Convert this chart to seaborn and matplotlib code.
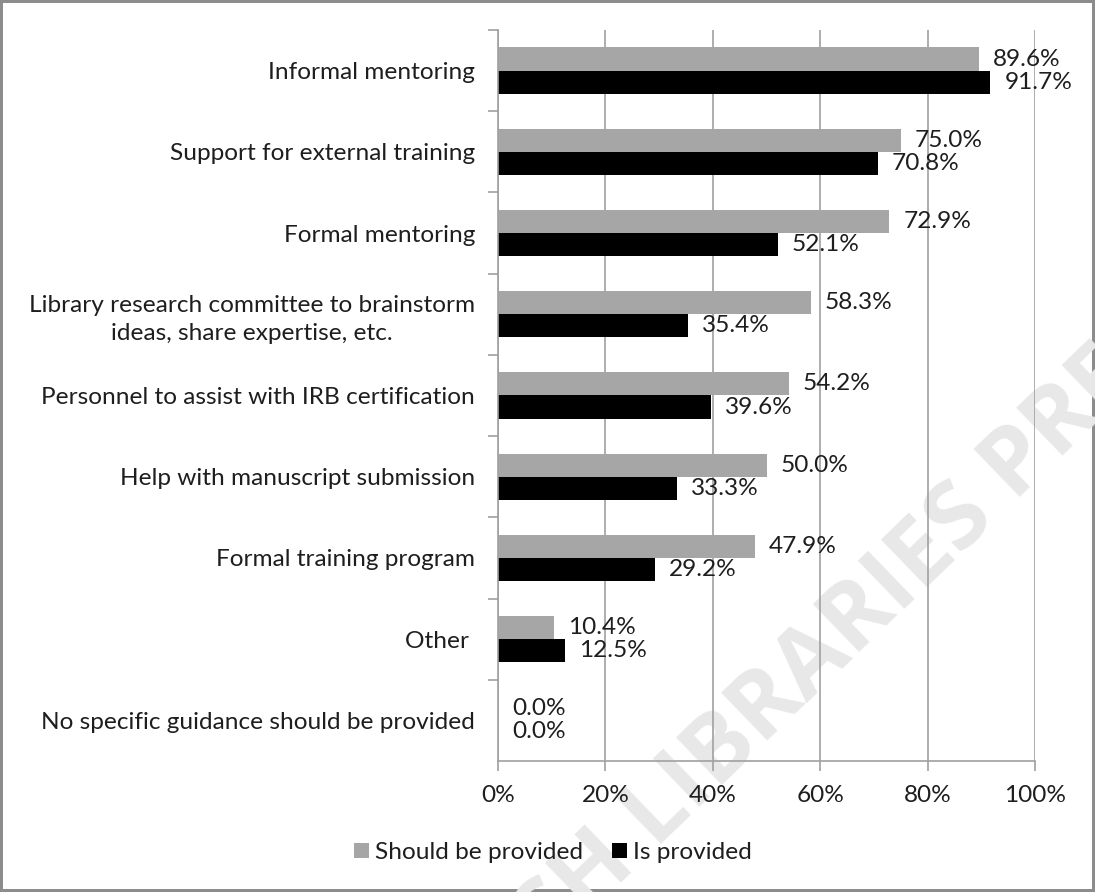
import matplotlib
matplotlib.use("Agg")
import matplotlib.pyplot as plt
import numpy as np
import pandas as pd
import seaborn as sns
from matplotlib.ticker import FixedLocator, PercentFormatter

categories = [
    "Informal mentoring",
    "Support for external training",
    "Formal mentoring",
    "Library research committee to brainstorm\nideas, share expertise, etc.",
    "Personnel to assist with IRB certification",
    "Help with manuscript submission",
    "Formal training program",
    "Other ",
    "No specific guidance should be provided",
]
should_be_provided = [89.6, 75.0, 72.9, 58.3, 54.2, 50.0, 47.9, 10.4, 0.0]
is_provided = [91.7, 70.8, 52.1, 35.4, 39.6, 33.3, 29.2, 12.5, 0.0]
series = ["Should be provided", "Is provided"]
colors = ["#a6a6a6", "#000000"]

df = pd.DataFrame({
    "category": categories * 2,
    "value": should_be_provided + is_provided,
    "series": [series[0]] * len(categories) + [series[1]] * len(categories),
})

sns.set_theme(style="white")
plt.rcParams["font.family"] = ["Lato", "DejaVu Sans"]
FS = 17.6
TXT = "#1e1e1e"
GRID = "#a0a0a0"

fig = plt.figure(figsize=(10.95, 8.92), dpi=100)
ax = fig.add_axes([0.4548, 0.1469, 0.4904, 0.8195])
ax.patch.set_alpha(0)

sns.barplot(
    data=df, y="category", x="value", hue="series", order=categories,
    hue_order=series, palette=colors, orient="h", width=0.57,
    saturation=1, ax=ax, edgecolor="none",
)

for cont in ax.containers:
    ax.bar_label(cont, fmt="%.1f%%", padding=10, fontsize=FS, color=TXT,
                 linespacing=1.0)

ax.set_xlim(0, 100)
ax.set_ylim(len(categories) - 0.5, -0.5)
ax.xaxis.set_major_locator(FixedLocator([0, 20, 40, 60, 80, 100]))
ax.xaxis.set_major_formatter(PercentFormatter(decimals=0))
ax.grid(axis="x", color=GRID, linewidth=1.2)
ax.set_axisbelow(True)
ax.set_xlabel("")
ax.set_ylabel("")

for s in ["top", "right"]:
    ax.spines[s].set_visible(False)
for s in ["left", "bottom"]:
    ax.spines[s].set_color(GRID)
    ax.spines[s].set_linewidth(1.2)

ax.tick_params(axis="x", direction="out", length=7, width=1.2, color=GRID,
               labelsize=FS, pad=10, labelcolor=TXT, bottom=True)
ax.tick_params(axis="y", which="major", length=0, labelsize=FS, pad=16.5,
               labelcolor=TXT)
ax.yaxis.set_minor_locator(FixedLocator(np.arange(-0.5, len(categories) - 0.5, 1)))
ax.tick_params(axis="y", which="minor", direction="out", length=7, width=1.2,
               color=GRID, left=True)
for lab in ax.get_yticklabels():
    lab.set_multialignment("center")
    lab.set_linespacing(1.4)

handles, labels = ax.get_legend_handles_labels()
ax.get_legend().remove()
fig.legend(handles, labels, loc="center", bbox_to_anchor=(0.505, 0.044), ncol=2,
           frameon=False, fontsize=FS, handlelength=0.6, handleheight=0.6,
           handletextpad=0.25, columnspacing=1.2, labelcolor=TXT)

# faint diagonal watermark behind the chart
fig.text(0.673, 0.174, "RESEARCH LIBRARIES PRESS", rotation=44, fontsize=68,
         fontweight="bold", color="#e8e8e8", ha="center", va="center",
         zorder=-1, family="Open Sans")

fig.patch.set_edgecolor("#8c8c8c")
fig.patch.set_linewidth(4)
fig.savefig("out.png", dpi=100, edgecolor=fig.get_edgecolor())
